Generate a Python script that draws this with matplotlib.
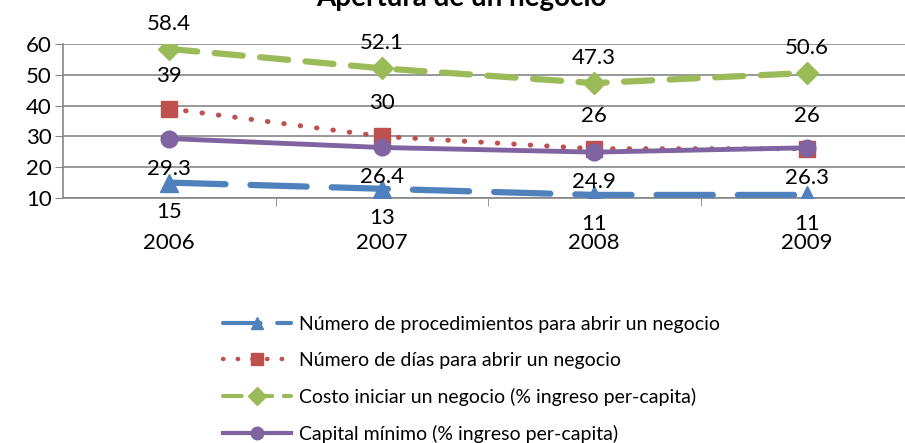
import matplotlib
matplotlib.use("Agg")
import matplotlib.pyplot as plt

plt.rcParams['font.family'] = ['Lato', 'DejaVu Sans']

# Datos
years = ["2006", "2007", "2008", "2009"]
procedimientos = [15, 13, 11, 11]
dias = [39, 30, 26, 26]
costo = [58.4, 52.1, 47.3, 50.6]
capital = [29.3, 26.4, 24.9, 26.3]

labels = [
    "Número de procedimientos para abrir un negocio",
    "Número de días para abrir un negocio",
    "Costo iniciar un negocio (% ingreso per-capita)",
    "Capital mínimo (% ingreso per-capita)",
]

W, H = 905, 443
fig = plt.figure(figsize=(W / 100, H / 100), dpi=100)
# area de trazado (pixeles): x 63..913, y 44..198
ax = fig.add_axes([63 / W, 1 - 198 / H, 850 / W, 154 / H])

x = list(range(len(years)))

series = [
    # datos, color, estilo, marcador, tamaño, ancho, desplazamiento etiqueta (px)
    (procedimientos, "#4F81BD", (0, (9, 4)), "^", 13, 4.5, -29),
    (dias, "#C0504D", (0, (0.1, 3.2)), "s", 11, 3.6, 33),
    (costo, "#9BBB59", (0, (4.5, 2.8)), "D", 11, 4.5, 25),
    (capital, "#8064A2", "-", "o", 12, 3.5, -30),
]

for (vals, col, ls, mk, ms, lw, off), lab in zip(series, labels):
    ax.plot(x, vals, color=col, linestyle=ls, linewidth=lw,
            dash_capstyle="round", solid_capstyle="round",
            marker=mk, markersize=ms, markerfacecolor=col,
            markeredgecolor=col, label=lab, zorder=3)
    for xi, v in zip(x, vals):
        ax.annotate(f"{v:g}", (xi, v), xytext=(0, off), textcoords="offset pixels",
                    ha="center", va="center", fontsize=16, color="black", zorder=4)

ax.set_xlim(-0.5, 3.5)
ax.set_ylim(10, 60)
ax.set_yticks([10, 20, 30, 40, 50, 60])
ax.tick_params(axis="y", labelsize=16, length=6, color="#868686", pad=2)
ax.set_xticks(x)
ax.set_xticklabels(years, fontsize=16)
ax.set_xticks([0.5, 1.5, 2.5], minor=True)
ax.tick_params(axis="x", which="major", length=0, pad=25)
ax.tick_params(axis="x", which="minor", length=6, color="#868686")
ax.grid(axis="y", color="#868686", linewidth=1.2)
ax.set_axisbelow(True)
for s in ["top", "right"]:
    ax.spines[s].set_visible(False)
for s in ["left", "bottom"]:
    ax.spines[s].set_color("#868686")
    ax.spines[s].set_linewidth(1.2)

fig.text(461 / W, 1 - 6 / H, "Apertura de un negocio", ha="center", va="baseline",
         fontsize=20, fontweight="bold")

leg_handles = []
for (vals, col, ls, mk, ms, lw, off), lab in zip(series, labels):
    h, = ax.plot([], [], color=col, linestyle=ls,
                 linewidth=3 if mk != "s" else 3.2,
                 dash_capstyle="round", marker=mk, markersize=9,
                 markerfacecolor=col, markeredgecolor=col, label=lab)
    leg_handles.append(h)

fig.legend(handles=leg_handles, loc="upper left",
           bbox_to_anchor=(223 / W, 1 - 316 / H), frameon=False,
           fontsize=14, handlelength=3.5, handletextpad=0.4,
           labelspacing=0.98, borderpad=0, borderaxespad=0)

fig.savefig("out.png", dpi=100)
